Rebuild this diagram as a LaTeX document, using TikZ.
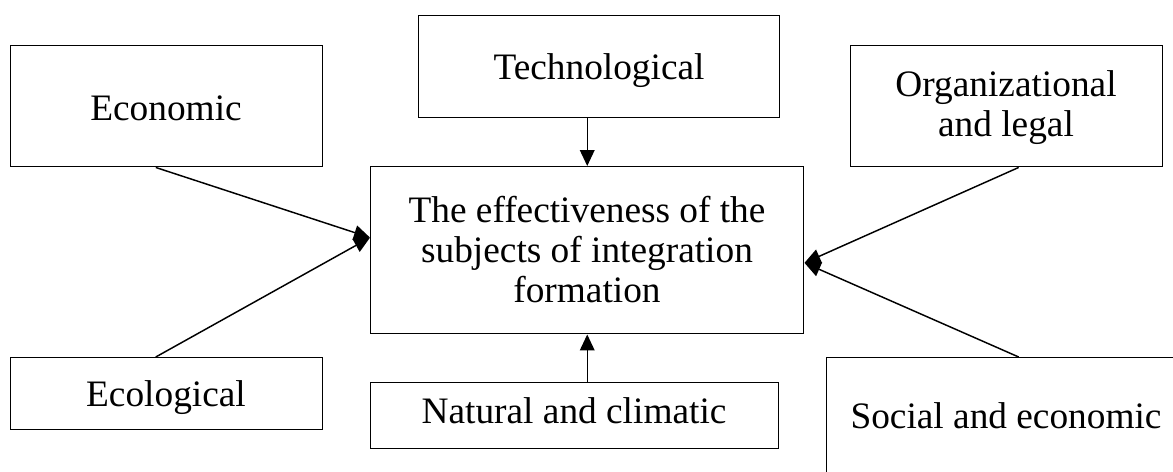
\documentclass[tikz,border=0pt]{standalone}
\usepackage{fontspec}
\setmainfont{Liberation Serif}
\usetikzlibrary{arrows.meta,calc}

\begin{document}
\begin{tikzpicture}[x=0.75pt, y=-0.75pt, line width=1.1pt,
	box/.style={draw, inner sep=0pt, anchor=north west},
	txt/.style={font=\fontsize{28}{30}\selectfont, align=center, anchor=base, inner sep=0pt},
	tip/.style={-{Triangle[length=12pt,width=11pt]}}]
	\useasboundingbox (0,0) rectangle (1173,471);
	% frames
	\foreach \n/\x/\y/\w/\h in {econ/10/45/312/121, tech/418/15/361/102, org/850/45/312/121, mid/370/166/433/167, eco/10/357/312/72, nat/370/382/408/66, soc/826/357/360/150}
		{\node[box, minimum width=\w*0.75pt, minimum height=\h*0.75pt] (\n) at (\x,\y) {};}
	% texts (base = last line)
	\foreach \n/\x/\y/\t in {econ/166/120/{Economic}, tech/599/79/{Technological}, org/1006/136/{Organizational\\and legal}, mid/587/302/{The effectiveness of the\\subjects of integration\\formation}, eco/166/406/{Ecological}, nat/574/423/{Natural and climatic}, soc/1006/428/{Social and economic}}
		{\node[txt] (\n-t) at (\x,\y) {\t};}
	% connectors
	\draw[tip] ($(econ.south west)!0.465!(econ.south east)$) -- ($(mid.north west)!0.425!(mid.south west)$);
	\draw[tip] ($(eco.north west)!0.465!(eco.north east)$) -- ($(mid.north west)!0.425!(mid.south west)$);
	\draw[tip] ($(org.south west)!0.538!(org.south east)$) -- ($(mid.north east)!0.575!(mid.south east)$);
	\draw[tip] ($(soc.north west)!0.533!(soc.north east)$) -- ($(mid.north east)!0.575!(mid.south east)$);
	\draw[tip] (mid.north |- tech.south) -- (mid.north);
	\draw[tip] (mid.south |- nat.north) -- (mid.south);
\end{tikzpicture}
\end{document}
